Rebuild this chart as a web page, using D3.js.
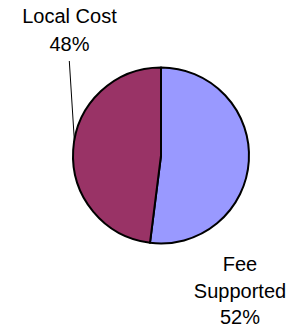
<!DOCTYPE html>
<html><head><meta charset="utf-8">
<script src="https://cdn.jsdelivr.net/npm/d3@7"></script>
<style>html,body{margin:0;padding:0;background:#fff;}svg{display:block;}</style>
</head><body>
<svg id="c" width="296" height="329"></svg>
<script>
const categories = ["Fee Supported", "Local Cost"];
const values = [52, 48];
const labelLines = [["Fee", "Supported", "52%"], ["Local Cost", "48%"]];
const colors = ["#9999FF", "#993366"];

const svg = d3.select("#c");
const cx = 161, cy = 155.5, r = 88;
const g = svg.append("g").attr("transform", `translate(${cx},${cy})`);
const pie = d3.pie().sort(null).value(d => d)(values);
const arc = d3.arc().innerRadius(0).outerRadius(r);
g.selectAll("path").data(pie).enter().append("path")
  .attr("d", arc)
  .attr("fill", (d, i) => colors[i])
  .attr("stroke", "#000").attr("stroke-width", 2).attr("stroke-linejoin", "round");

const font = "Liberation Sans, Arial, sans-serif";
const labelPos = [{x: 240, y: 271, dy: 26.5}, {x: 69.5, y: 22.7, dy: 28}];
labelLines.forEach((lines, i) => {
  const t = svg.append("text").attr("text-anchor", "middle")
    .attr("font-family", font).attr("font-size", 20).attr("fill", "#000");
  lines.forEach((s, j) => {
    t.append("tspan").attr("x", labelPos[i].x).attr("y", labelPos[i].y + j * labelPos[i].dy).text(s);
  });
});
// leader line for Local Cost
const a = 2 * Math.PI * (280 / 360);
svg.append("line")
  .attr("x1", 69.3).attr("y1", 61)
  .attr("x2", cx + r * Math.sin(a)).attr("y2", cy - r * Math.cos(a))
  .attr("stroke", "#000").attr("stroke-width", 1);
</script>
</body></html>
